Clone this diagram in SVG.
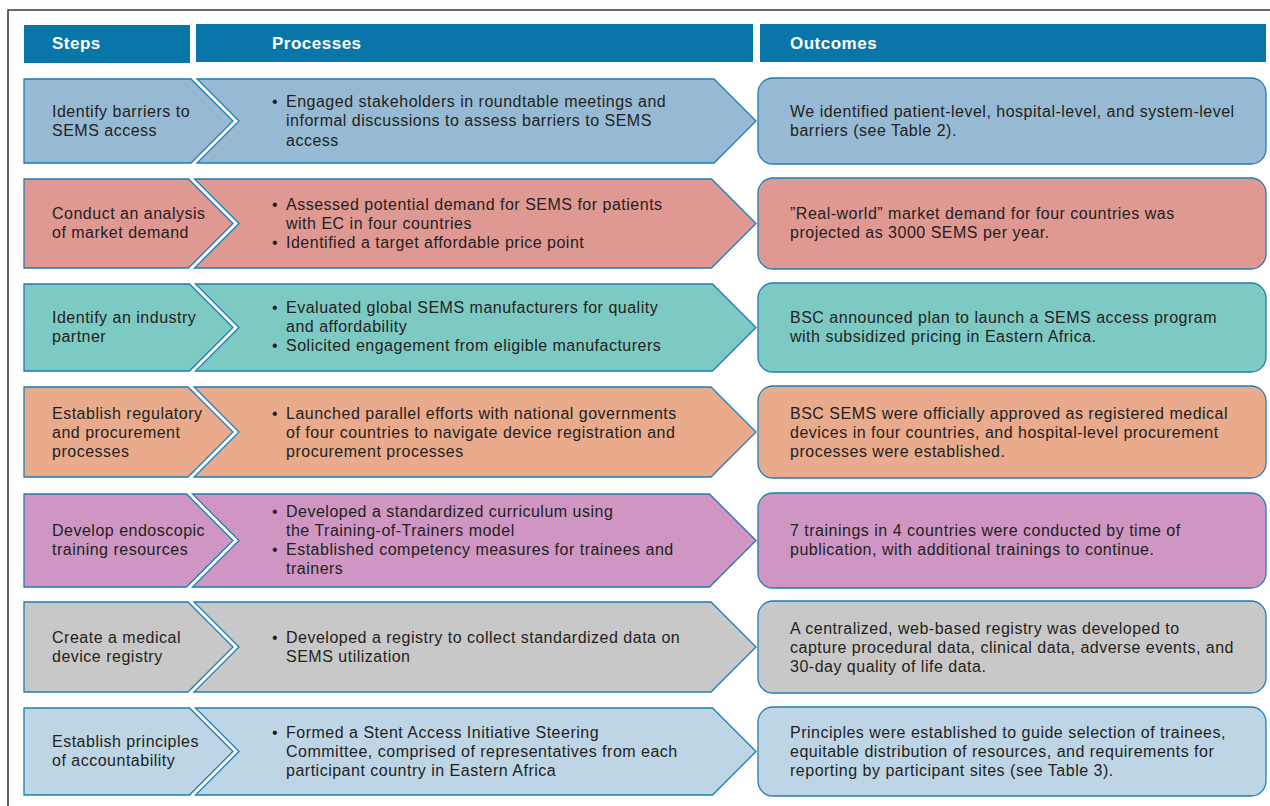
<svg xmlns="http://www.w3.org/2000/svg" width="1270" height="806" viewBox="0 0 1270 806">
<style>
.frame{fill:none;stroke:#3a3a3a;stroke-width:1.6}
.hdr{fill:#0876A8}
.ht{font-family:"Liberation Sans",Arial,sans-serif;font-size:17px;font-weight:bold;fill:#ffffff;letter-spacing:0.5px}
.t{font-family:"Liberation Sans",Arial,sans-serif;font-size:16px;fill:#231f20;letter-spacing:0.5px}
.s{stroke:#1E7DB5;stroke-width:1.3;stroke-linejoin:miter}
.c1{fill:#97BAD4}.c2{fill:#E09893}.c3{fill:#7DC9C3}.c4{fill:#E9AB8C}.c5{fill:#CF96C4}.c6{fill:#C8C8C8}.c7{fill:#BED5E6}
</style>
<rect width="1270" height="806" fill="#ffffff"/>
<path class="frame" d="M8,806 V10 H1270"/>
<g id="headers">
<rect class="hdr" x="24" y="25" width="166" height="38"/>
<rect class="hdr" x="196" y="24" width="557" height="38"/>
<rect class="hdr" x="760" y="24" width="506" height="38"/>
<text class="ht" x="52" y="49">Steps</text>
<text class="ht" x="272" y="49">Processes</text>
<text class="ht" x="790" y="49">Outcomes</text>
</g>
<g id="row1">
<path class="s c1" d="M24,79 H191 L233,121 L191,163 H24 Z"/>
<path class="s c1" d="M197,79 H714 L756,121 L714,163 H197 L239,121 Z"/>
<rect class="s c1" x="758" y="78" width="508" height="86" rx="15"/>
<text class="t" x="52" y="117">Identify barriers to</text>
<text class="t" x="52" y="136">SEMS access</text>
<text class="t" x="272" y="107">•</text>
<text class="t" x="286" y="107">Engaged stakeholders in roundtable meetings and</text>
<text class="t" x="286" y="126">informal discussions to assess barriers to SEMS</text>
<text class="t" x="286" y="146">access</text>
<text class="t" x="790" y="117">We identified patient-level, hospital-level, and system-level</text>
<text class="t" x="790" y="136">barriers (see Table 2).</text>
</g>
<g id="row2">
<path class="s c2" d="M24,179 H188.5 L233,223.5 L188.5,268 H24 Z"/>
<path class="s c2" d="M194.5,179 H711.5 L756,223.5 L711.5,268 H194.5 L239,223.5 Z"/>
<rect class="s c2" x="758" y="178" width="508" height="91" rx="15"/>
<text class="t" x="52" y="219">Conduct an analysis</text>
<text class="t" x="52" y="238">of market demand</text>
<text class="t" x="272" y="210">•</text>
<text class="t" x="286" y="210">Assessed potential demand for SEMS for patients</text>
<text class="t" x="286" y="229">with EC in four countries</text>
<text class="t" x="272" y="248">•</text>
<text class="t" x="286" y="248">Identified a target affordable price point</text>
<text class="t" x="790" y="219">”Real-world” market demand for four countries was</text>
<text class="t" x="790" y="238">projected as 3000 SEMS per year.</text>
</g>
<g id="row3">
<path class="s c3" d="M24,284 H189.5 L233,327.5 L189.5,371 H24 Z"/>
<path class="s c3" d="M195.5,284 H712.5 L756,327.5 L712.5,371 H195.5 L239,327.5 Z"/>
<rect class="s c3" x="758" y="283" width="508" height="89" rx="15"/>
<text class="t" x="52" y="323">Identify an industry</text>
<text class="t" x="52" y="342">partner</text>
<text class="t" x="272" y="313">•</text>
<text class="t" x="286" y="313">Evaluated global SEMS manufacturers for quality</text>
<text class="t" x="286" y="332">and affordability</text>
<text class="t" x="272" y="351">•</text>
<text class="t" x="286" y="351">Solicited engagement from eligible manufacturers</text>
<text class="t" x="790" y="323">BSC announced plan to launch a SEMS access program</text>
<text class="t" x="790" y="342">with subsidized pricing in Eastern Africa.</text>
</g>
<g id="row4">
<path class="s c4" d="M24,387 H188 L233,432 L188,477 H24 Z"/>
<path class="s c4" d="M194,387 H711 L756,432 L711,477 H194 L239,432 Z"/>
<rect class="s c4" x="758" y="386" width="508" height="92" rx="15"/>
<text class="t" x="52" y="419">Establish regulatory</text>
<text class="t" x="52" y="438">and procurement</text>
<text class="t" x="52" y="457">processes</text>
<text class="t" x="272" y="419">•</text>
<text class="t" x="286" y="419">Launched parallel efforts with national governments</text>
<text class="t" x="286" y="438">of four countries to navigate device registration and</text>
<text class="t" x="286" y="457">procurement processes</text>
<text class="t" x="790" y="419">BSC SEMS were officially approved as registered medical</text>
<text class="t" x="790" y="438">devices in four countries, and hospital-level procurement</text>
<text class="t" x="790" y="457">processes were established.</text>
</g>
<g id="row5">
<path class="s c5" d="M24,494 H186.5 L233,540.5 L186.5,587 H24 Z"/>
<path class="s c5" d="M192.5,494 H709.5 L756,540.5 L709.5,587 H192.5 L239,540.5 Z"/>
<rect class="s c5" x="758" y="493" width="508" height="95" rx="15"/>
<text class="t" x="52" y="536">Develop endoscopic</text>
<text class="t" x="52" y="555">training resources</text>
<text class="t" x="272" y="517">•</text>
<text class="t" x="286" y="517">Developed a standardized curriculum using</text>
<text class="t" x="286" y="536">the Training-of-Trainers model</text>
<text class="t" x="272" y="555">•</text>
<text class="t" x="286" y="555">Established competency measures for trainees and</text>
<text class="t" x="286" y="574">trainers</text>
<text class="t" x="790" y="536">7 trainings in 4 countries were conducted by time of</text>
<text class="t" x="790" y="555">publication, with additional trainings to continue.</text>
</g>
<g id="row6">
<path class="s c6" d="M24,602 H188 L233,647 L188,692 H24 Z"/>
<path class="s c6" d="M194,602 H711 L756,647 L711,692 H194 L239,647 Z"/>
<rect class="s c6" x="758" y="601" width="508" height="92" rx="15"/>
<text class="t" x="52" y="643">Create a medical</text>
<text class="t" x="52" y="662">device registry</text>
<text class="t" x="272" y="643">•</text>
<text class="t" x="286" y="643">Developed a registry to collect standardized data on</text>
<text class="t" x="286" y="662">SEMS utilization</text>
<text class="t" x="790" y="634">A centralized, web-based registry was developed to</text>
<text class="t" x="790" y="653">capture procedural data, clinical data, adverse events, and</text>
<text class="t" x="790" y="672">30-day quality of life data.</text>
</g>
<g id="row7">
<path class="s c7" d="M24,708 H189.5 L233,751.5 L189.5,795 H24 Z"/>
<path class="s c7" d="M195.5,708 H712.5 L756,751.5 L712.5,795 H195.5 L239,751.5 Z"/>
<rect class="s c7" x="758" y="707" width="508" height="89" rx="15"/>
<text class="t" x="52" y="747">Establish principles</text>
<text class="t" x="52" y="766">of accountability</text>
<text class="t" x="272" y="738">•</text>
<text class="t" x="286" y="738">Formed a Stent Access Initiative Steering</text>
<text class="t" x="286" y="757">Committee, comprised of representatives from each</text>
<text class="t" x="286" y="776">participant country in Eastern Africa</text>
<text class="t" x="790" y="738">Principles were established to guide selection of trainees,</text>
<text class="t" x="790" y="757">equitable distribution of resources, and requirements for</text>
<text class="t" x="790" y="776">reporting by participant sites (see Table 3).</text>
</g>
</svg>
